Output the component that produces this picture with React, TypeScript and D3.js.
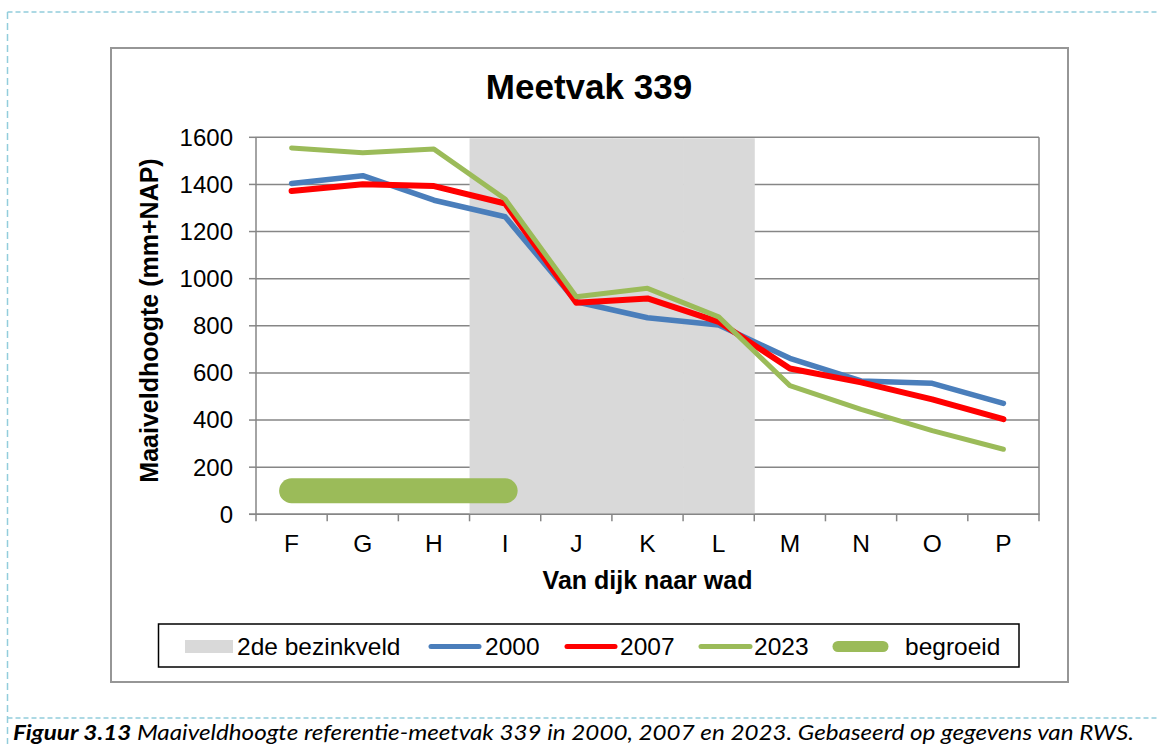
import React from "react";
import * as d3 from "d3";

const categories = ["F", "G", "H", "I", "J", "K", "L", "M", "N", "O", "P"];
const s2000 = [1404, 1437, 1333, 1263, 902, 834, 803, 662, 566, 556, 471];
const s2007 = [1372, 1401, 1393, 1319, 898, 916, 817, 619, 560, 488, 404];
const s2023 = [1555, 1534, 1550, 1338, 923, 959, 838, 546, 445, 355, 276];
const begroeid = [100, 100, 100, 100, null, null, null, null, null, null, null];
const bezinkveld = [null, null, null, 1600, 1600, 1600, 1600, null, null, null, null];
const yTicks = [0, 200, 400, 600, 800, 1000, 1200, 1400, 1600];

const FONT = "'Liberation Sans', Arial, sans-serif";
const GRID = "#868686";
const BLUE = "#4a7ebb";
const RED = "#ff0000";
const GREEN = "#9bbb59";
const SHADE = "#d9d9d9";

export default function App() {
  const x = d3.scaleBand<string>().domain(categories).range([256, 1039]).padding(0);
  const y = d3.scaleLinear().domain([0, 1600]).range([514.3, 137.3]);
  const cx = (c: string) => (x(c) as number) + x.bandwidth() / 2;

  const line = d3
    .line<number | null>()
    .defined((d) => d != null)
    .x((_, i) => cx(categories[i]))
    .y((d) => y(d as number));

  const series = [
    { name: "2000", values: s2000, color: BLUE, w: 5.5 },
    { name: "2007", values: s2007, color: RED, w: 6 },
    { name: "2023", values: s2023, color: GREEN, w: 5 },
  ];

  const boundaries = categories.map((c) => x(c) as number).concat([x.range()[1]]);

  return (
    <svg
      width={1159}
      height={744}
      style={{ position: "absolute", left: 0, top: 0, background: "#fff" }}
      fontFamily={FONT}
    >
      {/* page dashed frame */}
      <line x1={7.5} y1={12} x2={1159} y2={12} stroke="#92cddc" strokeWidth={1.5} strokeDasharray="5 3" />
      <line x1={7.5} y1={12} x2={7.5} y2={744} stroke="#92cddc" strokeWidth={1.5} strokeDasharray="7 4" />
      <line x1={7.5} y1={718} x2={1159} y2={718} stroke="#92cddc" strokeWidth={1.5} strokeDasharray="5 3" />

      {/* chart border */}
      <rect x={111} y={48} width={957} height={634} fill="#fff" stroke="#969696" strokeWidth={2} />

      {/* title */}
      <text x={589} y={99.3} textAnchor="middle" fontSize={35} fontWeight="bold" fill="#000">
        Meetvak 339
      </text>

      {/* gridlines */}
      {yTicks.map((t) => (
        <line key={t} x1={256} x2={1039} y1={y(t)} y2={y(t)} stroke={GRID} strokeWidth={1.5} />
      ))}
      <line x1={1039} x2={1039} y1={y(1600)} y2={y(0)} stroke={GRID} strokeWidth={1.5} />

      {/* shaded area */}
      {bezinkveld.map((v, i) =>
        v == null ? null : (
          <rect
            key={i}
            x={x(categories[i]) as number}
            width={x.bandwidth() + 0.5}
            y={y(v) + 1}
            height={y(0) - y(v) - 1}
            fill={SHADE}
          />
        )
      )}

      {/* axes */}
      <line x1={256} x2={256} y1={y(1600)} y2={y(0) + 0.75} stroke={GRID} strokeWidth={1.5} />
      <line x1={249} x2={1039.75} y1={y(0)} y2={y(0)} stroke={GRID} strokeWidth={1.5} />
      {yTicks.map((t) => (
        <line key={"yt" + t} x1={249} x2={256} y1={y(t)} y2={y(t)} stroke={GRID} strokeWidth={1.5} />
      ))}
      {boundaries.map((b, i) => (
        <line key={"xt" + i} x1={b} x2={b} y1={y(0)} y2={y(0) + 7} stroke={GRID} strokeWidth={1.5} />
      ))}

      {/* y tick labels */}
      {yTicks.map((t) => (
        <text key={"yl" + t} x={233} y={y(t)} dy="0.35em" textAnchor="end" fontSize={24} fill="#000">
          {t}
        </text>
      ))}
      {/* x tick labels */}
      {categories.map((c) => (
        <text key={"xl" + c} x={cx(c)} y={551.7} textAnchor="middle" fontSize={24.5} fill="#000">
          {c}
        </text>
      ))}

      {/* axis titles */}
      <text
        transform={`translate(158,320.5) rotate(-90)`}
        textAnchor="middle"
        fontSize={25}
        fontWeight="bold"
        fill="#000"
      >
        Maaiveldhoogte (mm+NAP)
      </text>
      <text x={647.5} y={589} textAnchor="middle" fontSize={25} fontWeight="bold" fill="#000">
        Van dijk naar wad
      </text>

      {/* begroeid */}
      <path
        d={line(begroeid) || ""}
        fill="none"
        stroke={GREEN}
        strokeWidth={25}
        strokeLinecap="round"
      />

      {/* series lines */}
      {series.map((s) => (
        <path
          key={s.name}
          d={line(s.values) || ""}
          fill="none"
          stroke={s.color}
          strokeWidth={s.w}
          strokeLinejoin="round"
          strokeLinecap="round"
        />
      ))}

      {/* legend */}
      <rect x={158.5} y={624} width={860.5} height={43} fill="#fff" stroke="#000" strokeWidth={1.5} />
      <rect x={185} y={640} width={48} height={13} fill={SHADE} />
      <text x={237} y={655} fontSize={24.5} fill="#000">2de bezinkveld</text>
      <line x1={431} x2={479} y1={646.5} y2={646.5} stroke={BLUE} strokeWidth={5} strokeLinecap="round" />
      <text x={485} y={655} fontSize={24.5} fill="#000">2000</text>
      <line x1={567} x2={615} y1={646.5} y2={646.5} stroke={RED} strokeWidth={5} strokeLinecap="round" />
      <text x={620} y={655} fontSize={24.5} fill="#000">2007</text>
      <line x1={701} x2={750} y1={646.5} y2={646.5} stroke={GREEN} strokeWidth={5} strokeLinecap="round" />
      <text x={754} y={655} fontSize={24.5} fill="#000">2023</text>
      <line x1={838} x2={883} y1={646.5} y2={646.5} stroke={GREEN} strokeWidth={11} strokeLinecap="round" />
      <text x={905} y={655} fontSize={24.5} fill="#000">begroeid</text>

      {/* caption */}
      <text x={13} y={740} fontFamily="Lato, 'Open Sans', sans-serif" fontSize={21} fontStyle="italic" fill="#000" textLength={1121} lengthAdjust="spacingAndGlyphs">
        <tspan fontWeight="bold">Figuur 3.13</tspan>
        <tspan> Maaiveldhoogte referentie-meetvak 339 in 2000, 2007 en 2023. Gebaseerd op gegevens van RWS.</tspan>
      </text>
    </svg>
  );
}
